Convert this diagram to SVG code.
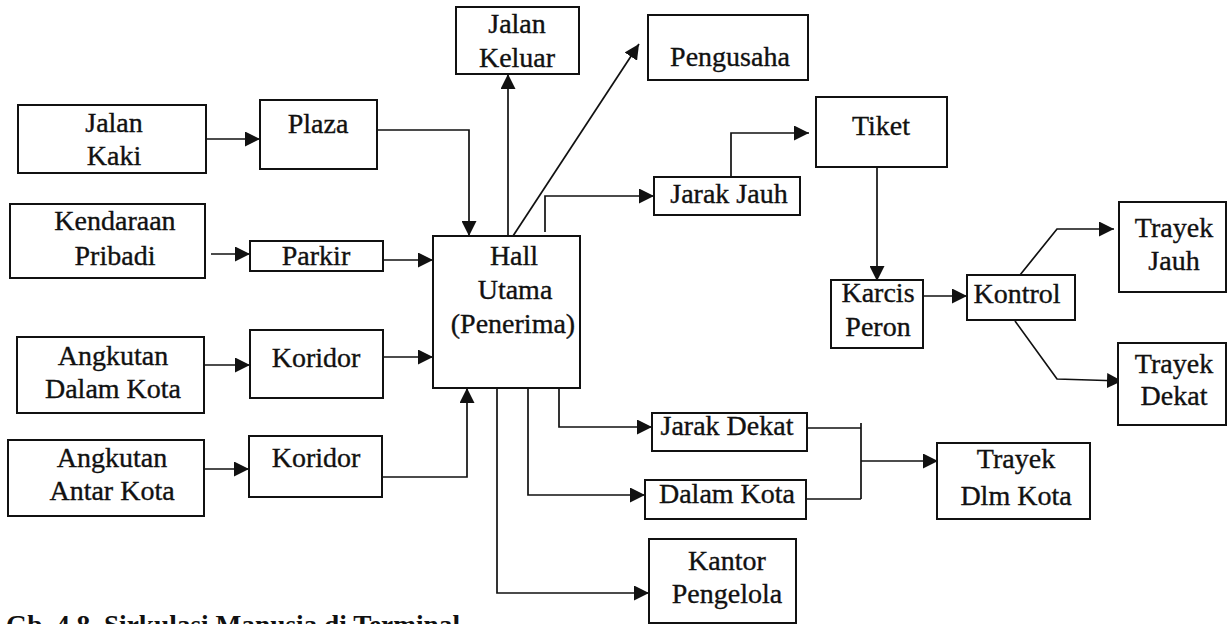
<svg xmlns="http://www.w3.org/2000/svg" width="1227" height="624" viewBox="0 0 1227 624">
<style>
  .box { fill: #ffffff; stroke: #111111; stroke-width: 2; }
  .lbl { font-size: 28px; fill: #111111; stroke: #111111; stroke-width: 0.35; text-anchor: middle; }
  .cap { font-size: 27.5px; font-weight: bold; fill: #111111; }
  .ln { fill: none; stroke: #111111; stroke-width: 1.7; }
</style>
<defs>
  <marker id="ah" markerUnits="userSpaceOnUse" markerWidth="15" markerHeight="15" refX="15" refY="7.5" orient="auto">
    <path d="M0,0 L15,7.5 L0,15 z" fill="#111111"/>
  </marker>
</defs>
<rect width="1227" height="624" fill="#ffffff"/>

<g id="connectors">
  <path class="ln" d="M206,139 L260,139" marker-end="url(#ah)"/>
  <path class="ln" d="M377,130 L469,130 L469,236" marker-end="url(#ah)"/>
  <path class="ln" d="M211,254 L250,254" marker-end="url(#ah)"/>
  <path class="ln" d="M383,260 L433,260" marker-end="url(#ah)"/>
  <path class="ln" d="M204,365 L250,365" marker-end="url(#ah)"/>
  <path class="ln" d="M383,357 L433,357" marker-end="url(#ah)"/>
  <path class="ln" d="M204,469 L249,469" marker-end="url(#ah)"/>
  <path class="ln" d="M382,477 L467,477 L467,388" marker-end="url(#ah)"/>
  <path class="ln" d="M508,236 L508,74" marker-end="url(#ah)"/>
  <path class="ln" d="M513,236 L639,44" marker-end="url(#ah)"/>
  <path class="ln" d="M545,232 L545,196 L654,196" marker-end="url(#ah)"/>
  <path class="ln" d="M731,177 L731,133 L809,133" marker-end="url(#ah)"/>
  <path class="ln" d="M877,167 L877,281" marker-end="url(#ah)"/>
  <path class="ln" d="M923,296 L967,296" marker-end="url(#ah)"/>
  <path class="ln" d="M1020,275 L1057,229 L1114,229" marker-end="url(#ah)"/>
  <path class="ln" d="M1015,321 L1057,379 L1122,381" marker-end="url(#ah)"/>
  <path class="ln" d="M559,382 L559,427 L652,427" marker-end="url(#ah)"/>
  <path class="ln" d="M528,382 L528,495 L645,495" marker-end="url(#ah)"/>
  <path class="ln" d="M497,382 L497,593 L649,593" marker-end="url(#ah)"/>
  <path class="ln" d="M807,428 L861,428 M806,499 L861,499 M861,423 L861,499"/>
  <path class="ln" d="M861,461 L938,461" marker-end="url(#ah)"/>
</g>

<g font-family="'Liberation Serif', 'DejaVu Serif', serif">
<g id="jalan-kaki">
  <rect class="box" x="18" y="105" width="188" height="68"/>
  <text class="lbl" x="114" y="132">Jalan</text>
  <text class="lbl" x="114" y="165">Kaki</text>
</g>
<g id="plaza">
  <rect class="box" x="260" y="100" width="117" height="69"/>
  <text class="lbl" x="318" y="133">Plaza</text>
</g>
<g id="kendaraan-pribadi">
  <rect class="box" x="10" y="204" width="195" height="74"/>
  <text class="lbl" x="115" y="230">Kendaraan</text>
  <text class="lbl" x="115" y="265">Pribadi</text>
</g>
<g id="parkir">
  <rect class="box" x="250" y="241" width="133" height="30"/>
  <text class="lbl" x="316" y="265">Parkir</text>
</g>
<g id="angkutan-dalam-kota">
  <rect class="box" x="17" y="337" width="187" height="76"/>
  <text class="lbl" x="113" y="365">Angkutan</text>
  <text class="lbl" x="113" y="398">Dalam Kota</text>
</g>
<g id="koridor-1">
  <rect class="box" x="250" y="330" width="133" height="68"/>
  <text class="lbl" x="316" y="367">Koridor</text>
</g>
<g id="angkutan-antar-kota">
  <rect class="box" x="8" y="440" width="196" height="76"/>
  <text class="lbl" x="112" y="467">Angkutan</text>
  <text class="lbl" x="112" y="500">Antar Kota</text>
</g>
<g id="koridor-2">
  <rect class="box" x="249" y="436" width="133" height="61"/>
  <text class="lbl" x="316" y="467">Koridor</text>
</g>
<g id="hall-utama">
  <rect class="box" x="433" y="236" width="147" height="152"/>
  <text class="lbl" x="514" y="265">Hall</text>
  <text class="lbl" x="515" y="299">Utama</text>
  <text class="lbl" x="513" y="333">(Penerima)</text>
</g>
<g id="jalan-keluar">
  <rect class="box" x="456" y="7" width="123" height="67"/>
  <text class="lbl" x="517" y="33">Jalan</text>
  <text class="lbl" x="517" y="67">Keluar</text>
</g>
<g id="pengusaha">
  <rect class="box" x="648" y="15" width="160" height="65"/>
  <text class="lbl" x="730" y="66">Pengusaha</text>
</g>
<g id="jarak-jauh">
  <rect class="box" x="654" y="177" width="146" height="38"/>
  <text class="lbl" x="729" y="203">Jarak Jauh</text>
</g>
<g id="tiket">
  <rect class="box" x="816" y="97" width="131" height="70"/>
  <text class="lbl" x="881" y="135">Tiket</text>
</g>
<g id="karcis-peron">
  <rect class="box" x="831" y="280" width="92" height="68"/>
  <text class="lbl" x="878" y="302">Karcis</text>
  <text class="lbl" x="878" y="336">Peron</text>
</g>
<g id="kontrol">
  <rect class="box" x="967" y="275" width="108" height="45"/>
  <text class="lbl" x="1017" y="303">Kontrol</text>
</g>
<g id="trayek-jauh">
  <rect class="box" x="1119" y="202" width="107" height="90"/>
  <text class="lbl" x="1174" y="237">Trayek</text>
  <text class="lbl" x="1174" y="270">Jauh</text>
</g>
<g id="trayek-dekat">
  <rect class="box" x="1118" y="343" width="108" height="82"/>
  <text class="lbl" x="1174" y="373">Trayek</text>
  <text class="lbl" x="1174" y="405">Dekat</text>
</g>
<g id="jarak-dekat">
  <rect class="box" x="652" y="413" width="155" height="38"/>
  <text class="lbl" x="727" y="435">Jarak Dekat</text>
</g>
<g id="dalam-kota">
  <rect class="box" x="645" y="480" width="161" height="39"/>
  <text class="lbl" x="727" y="503">Dalam Kota</text>
</g>
<g id="trayek-dlm-kota">
  <rect class="box" x="937" y="443" width="153" height="76"/>
  <text class="lbl" x="1016" y="468">Trayek</text>
  <text class="lbl" x="1016" y="505">Dlm Kota</text>
</g>
<g id="kantor-pengelola">
  <rect class="box" x="649" y="539" width="147" height="84"/>
  <text class="lbl" x="727" y="570">Kantor</text>
  <text class="lbl" x="727" y="603">Pengelola</text>
</g>

<text class="cap" x="6" y="634" textLength="454" lengthAdjust="spacingAndGlyphs">Gb. 4.8. Sirkulasi Manusia di Terminal</text>
</g>
</svg>
